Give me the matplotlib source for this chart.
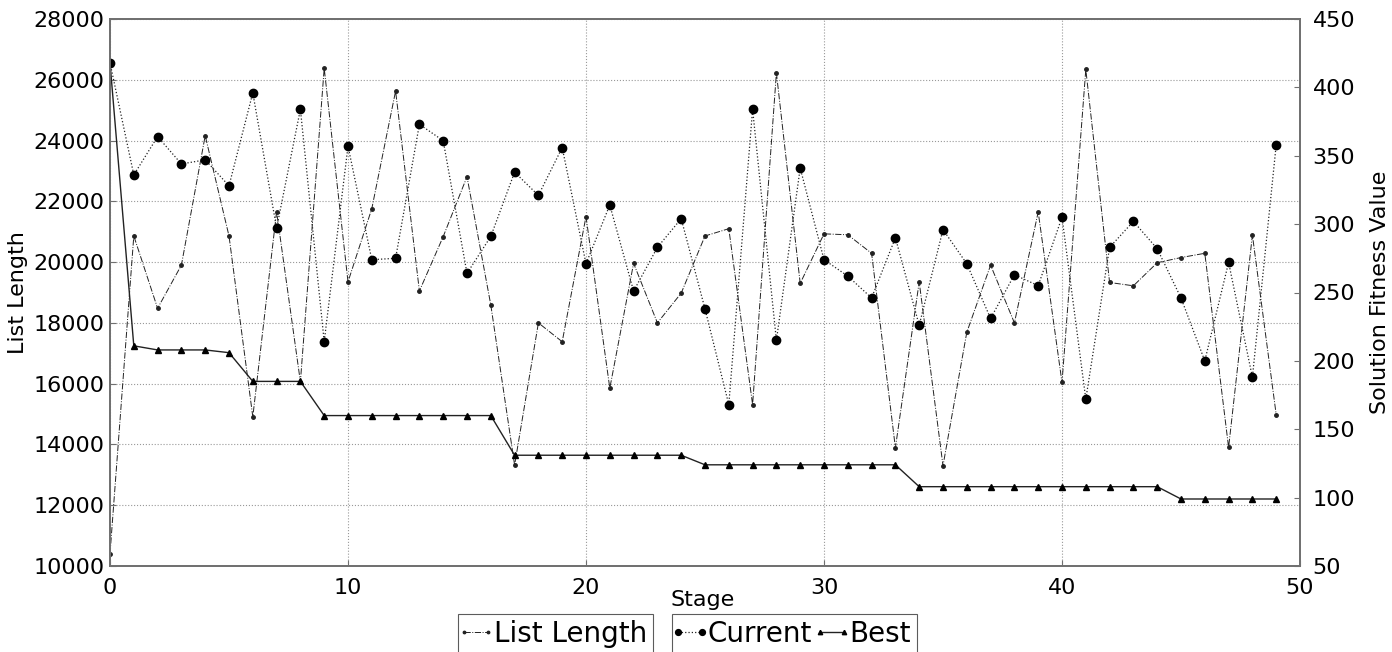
import matplotlib
matplotlib.use("Agg")
import matplotlib.pyplot as plt
from matplotlib.lines import Line2D
from matplotlib.legend_handler import HandlerLine2D

stages = list(range(50))
list_length = [10400, 20860, 18480, 19900, 24160, 20860, 14910, 21660, 16060, 26380,
               19350, 21760, 25630, 19050, 20840, 22810, 18590, 13320, 18000, 17380,
               21500, 15850, 19960, 18000, 18980, 20860, 21100, 15310, 26230, 19300,
               20930, 20900, 20290, 13890, 19350, 13300, 17690, 19900, 18000, 21650,
               16040, 26340, 19330, 19220, 19980, 20150, 20290, 13900, 20890, 14980]
current = [418, 336, 364, 344, 347, 328, 396, 297, 384, 214,
           357, 274, 275, 373, 361, 264, 291, 338, 321, 356,
           271, 314, 251, 283, 304, 238, 168, 384, 215, 341,
           274, 262, 246, 290, 226, 296, 271, 231, 263, 255,
           305, 172, 283, 302, 282, 246, 200, 272, 188, 358]
best = [418, 211, 208, 208, 208, 206, 185, 185, 185, 160,
        160, 160, 160, 160, 160, 160, 160, 131, 131, 131,
        131, 131, 131, 131, 131, 124, 124, 124, 124, 124,
        124, 124, 124, 124, 108, 108, 108, 108, 108, 108,
        108, 108, 108, 108, 108, 99, 99, 99, 99, 99]

left_ticks = list(range(10000, 28001, 2000))
right_ticks = list(range(50, 451, 50))
x_ticks = list(range(0, 51, 10))

plt.rcParams['font.family'] = ['DejaVu Sans']
W, H = 1392, 652
fig = plt.figure(figsize=(W / 100, H / 100), dpi=100)
ax = fig.add_axes([110 / W, 1 - 566 / H, 1190 / W, 547 / H])
ax2 = ax.twinx()

l1, = ax.plot(stages, list_length, color='#222222', linestyle='-.', linewidth=0.7,
              marker='.', markersize=5, label='List Length')
l2, = ax2.plot(stages, current, color='#222222', linestyle=':', linewidth=0.9,
               marker='o', markersize=6, markerfacecolor='black',
               markeredgecolor='black', label='Current')
l3, = ax2.plot(stages, best, color='#222222', linestyle='-', linewidth=1.0,
               marker='^', markersize=4.5, markerfacecolor='black',
               markeredgecolor='black', label='Best')

ax.set_xlim(0, 50)
ax.set_ylim(10000, 28000)
ax2.set_ylim(50, 450)
ax.set_xticks(x_ticks)
ax.set_yticks(left_ticks)
ax2.set_yticks(right_ticks)

ax.grid(True, linestyle=':', color='#999999', linewidth=0.8)
ax.set_axisbelow(True)

for a in (ax, ax2):
    for s in a.spines.values():
        s.set_color('#707070')
        s.set_linewidth(1.3)

ax.tick_params(axis='x', direction='in', length=4, color='#707070', labelsize=16, pad=9)
ax.tick_params(axis='y', direction='in', length=4, color='#707070', labelsize=16, pad=4)
ax2.tick_params(axis='y', direction='in', length=4, color='#707070', labelsize=16, pad=9)

ax.set_ylabel('List Length', fontsize=16)
ax.yaxis.set_label_coords(-82 / 1190, 0.5)
ax2.set_ylabel('Solution Fitness Value', fontsize=16)
ax2.yaxis.set_label_coords(1 + 70 / 1190, 0.5)
ax.set_xlabel('Stage', fontsize=16)
ax.xaxis.set_label_coords((703 - 110) / 1190, -24 / 547)

hmap = {Line2D: HandlerLine2D(marker_pad=0.0)}
leg_kw = dict(fontsize=20, frameon=True, fancybox=False, borderpad=0.22,
              handlelength=0.85, handletextpad=0.2, borderaxespad=0,
              bbox_transform=fig.transFigure, numpoints=2, columnspacing=0.3,
              markerscale=0.7, handler_map=hmap)
leg1 = ax.legend(handles=[l1], loc='upper right',
                 bbox_to_anchor=(653 / W, 1 - 614 / H), **leg_kw)
leg2 = ax2.legend(handles=[l2, l3], loc='upper left', ncol=2,
                  bbox_to_anchor=(672 / W, 1 - 614 / H), **leg_kw)
for lg in (leg1, leg2):
    lg.get_frame().set_edgecolor('#333333')
    lg.get_frame().set_linewidth(0.8)

fig.savefig('out.png', dpi=100)
